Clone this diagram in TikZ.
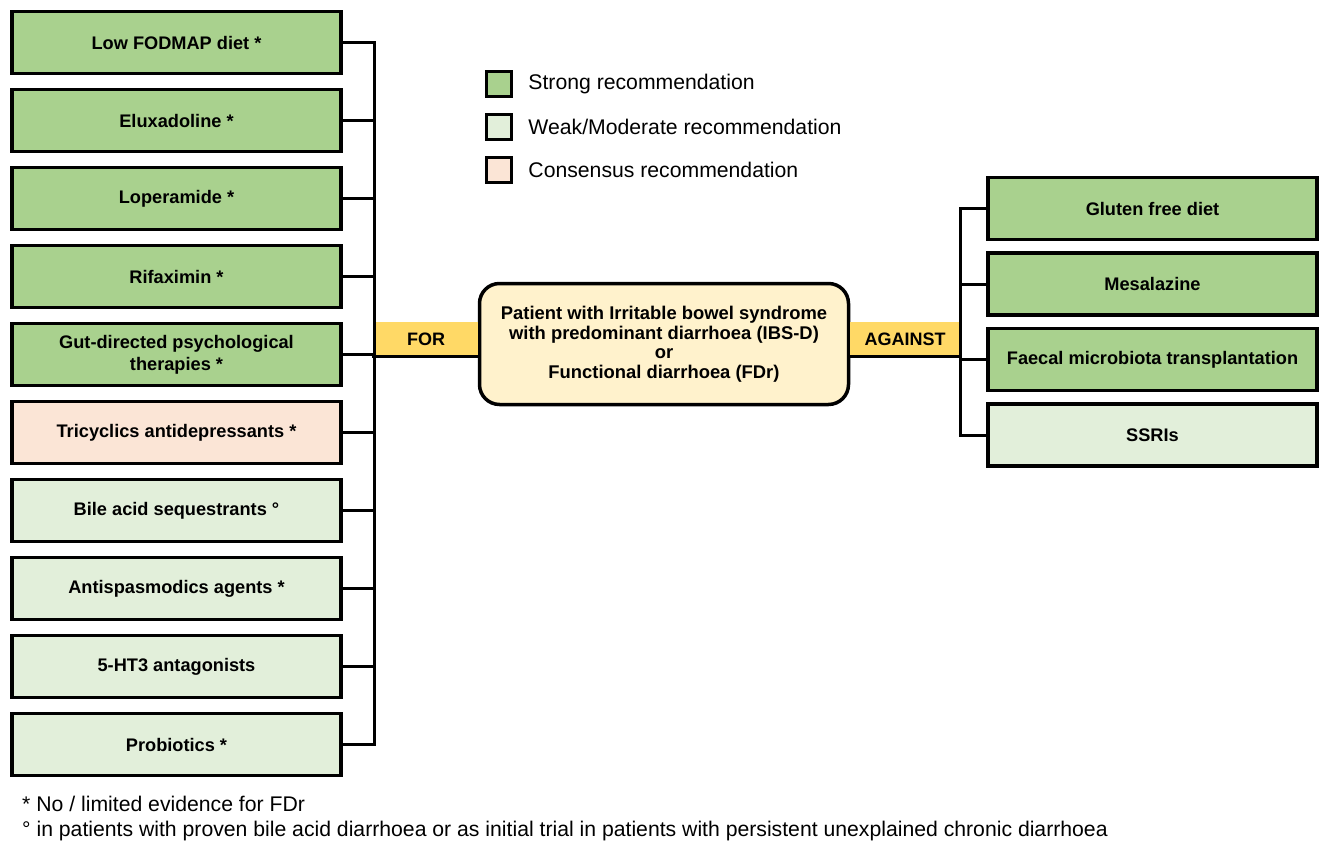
\documentclass[tikz,border=0pt]{standalone}
\usepackage{fontspec}
\setmainfont{Liberation Sans}
\usetikzlibrary{positioning}
\definecolor{strong}{HTML}{A9D18E}
\definecolor{weak}{HTML}{E2EFDA}
\definecolor{consensus}{HTML}{FBE5D6}
\definecolor{bandyellow}{HTML}{FFD966}
\definecolor{patientfill}{HTML}{FFF2CC}
\tikzset{
    treat/.style={draw, line width=3.5pt, minimum width=329pt, minimum height=62pt,
        inner sep=0pt, align=center, font=\bfseries\fontsize{18.2}{22}\selectfont},
    link/.style={line width=3pt, line cap=rect},
    band/.style={fill=bandyellow, minimum width=104pt, minimum height=34pt, inner sep=0pt,
        font=\bfseries\fontsize{18}{20}\selectfont},
    patient/.style={draw, fill=patientfill, line width=3.5pt, rounded corners=20pt,
        minimum width=369pt, minimum height=121pt, align=center,
        font=\bfseries\fontsize{18.4}{19.5}\selectfont},
    legbox/.style={draw, line width=3.5pt, minimum size=25pt, inner sep=0pt},
    legtext/.style={inner sep=0pt, font=\fontsize{21.2}{24}\selectfont},
    note/.style={inner sep=0pt, anchor=west, font=\fontsize{21.2}{24}\selectfont},
}
\begin{document}
\begin{tikzpicture}[x=1pt, y=-1pt]
    \useasboundingbox (0,0) rectangle (1320,845);
    % treatments for
    \foreach \t/\c [count=\i] in {Low FODMAP diet */strong, Eluxadoline */strong,
        Loperamide */strong, Rifaximin */strong,
        {Gut-directed psychological\\therapies *}/strong,
        Tricyclics antidepressants */consensus, Bile acid sequestrants °/weak,
        Antispasmodics agents */weak, 5-HT3 antagonists/weak, Probiotics */weak}
        \node[treat, fill=\c] (l\i) at (176.5, {42.5+78*(\i-1)}) {\t};
    % treatments against
    \foreach \t/\c [count=\i] in {Gluten free diet/strong, Mesalazine/strong,
        Faecal microbiota transplantation/strong, SSRIs/weak}
        \node[treat, fill=\c] (r\i) at (1152.5, {208.5+75.5*(\i-1)}) {\t};
    % patient
    \node[patient] (pt) at (664,344) {Patient with Irritable bowel syndrome\\
        with predominant diarrhoea (IBS-D)\\or\\Functional diarrhoea (FDr)};
    \node[band] (for) at (426,339) {FOR};
    \node[band, minimum width=110pt] (against) at (905,339) {AGAINST};
    \coordinate (lbus) at (374,0);
    \coordinate (rbus) at (960,0);
    % connectors
    \foreach \i in {1,...,10}
        \draw[link] (l\i.east) -- (l\i.east -| lbus);
    \draw[link] (l1.east -| lbus) -- (l10.east -| lbus);
    \foreach \i in {1,...,4}
        \draw[link] (r\i.west) -- (r\i.west -| rbus);
    \draw[link] (r1.west -| rbus) -- (r4.west -| rbus);
    \draw[link] (for.south west) -- (for.south east);
    \draw[link] (against.south west) -- (against.south east -| rbus);
    % legend
    \node[legbox, fill=strong] (k1) at (499,84) {};
    \node[legbox, fill=weak] (k2) at (499,127) {};
    \node[legbox, fill=consensus] (k3) at (499,170) {};
    \node[legtext, right=15pt of k1] (t1) {Strong recommendation};
    \node[legtext, right=15pt of k2] (t2) {Weak/Moderate recommendation};
    \node[legtext, right=15pt of k3] (t3) {Consensus recommendation};
    % notes
    \node[note] (n1) at (22,804) {* No / limited evidence for FDr};
    \node[note] (n2) at (22,831) {° in patients with proven bile acid diarrhoea or as initial trial in patients with persistent unexplained chronic diarrhoea};
\end{tikzpicture}
\end{document}
